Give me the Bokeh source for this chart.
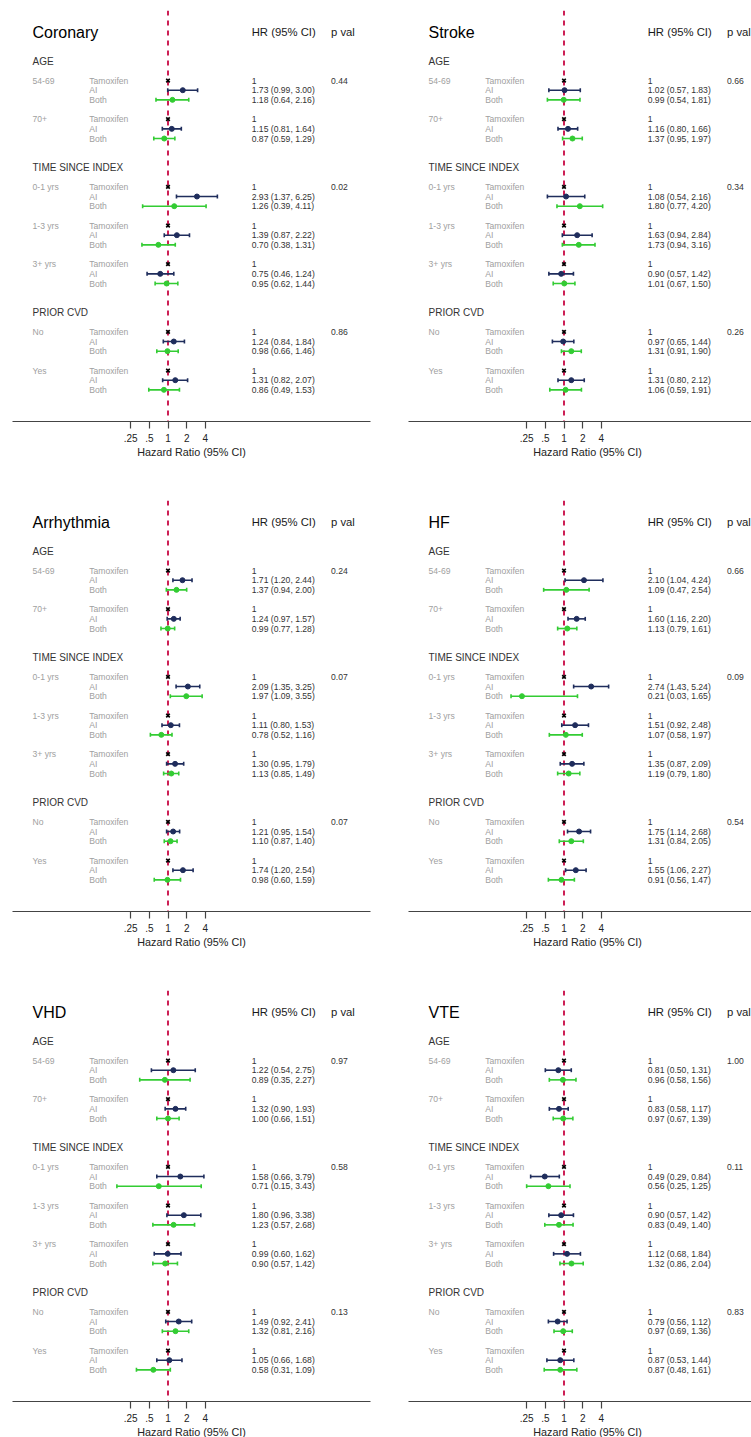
import numpy as np
from bokeh.plotting import figure
from bokeh.models import (Range1d, LinearScale, FixedTicker, Span, Whisker,
                          ColumnDataSource, TeeHead)
from bokeh.layouts import column, row
from bokeh.embed import file_html
from bokeh.resources import INLINE
from bokeh.core.properties import value

# ---------------- data ----------------
outcomes = ["Coronary", "Stroke", "Arrhythmia", "HF", "VHD", "VTE"]
sections = ["AGE", "TIME SINCE INDEX", "PRIOR CVD"]
subgroups = [["54-69", "70+"], ["0-1 yrs", "1-3 yrs", "3+ yrs"], ["No", "Yes"]]
treatments = ["Tamoxifen", "AI", "Both"]
tick_values = [0.25, 0.5, 1.0, 2.0, 4.0]
tick_labels = [".25", ".5", "1", "2", "4"]

# [HR, lower, upper] per subgroup: 54-69, 70+, 0-1 yrs, 1-3 yrs, 3+ yrs, No, Yes
coronary_ai = [[1.73, 0.99, 3.00], [1.15, 0.81, 1.64], [2.93, 1.37, 6.25], [1.39, 0.87, 2.22],
               [0.75, 0.46, 1.24], [1.24, 0.84, 1.84], [1.31, 0.82, 2.07]]
coronary_both = [[1.18, 0.64, 2.16], [0.87, 0.59, 1.29], [1.26, 0.39, 4.11], [0.70, 0.38, 1.31],
                 [0.95, 0.62, 1.44], [0.98, 0.66, 1.46], [0.86, 0.49, 1.53]]
coronary_p = ["0.44", "0.02", "0.86"]

stroke_ai = [[1.02, 0.57, 1.83], [1.16, 0.80, 1.66], [1.08, 0.54, 2.16], [1.63, 0.94, 2.84],
             [0.90, 0.57, 1.42], [0.97, 0.65, 1.44], [1.31, 0.80, 2.12]]
stroke_both = [[0.99, 0.54, 1.81], [1.37, 0.95, 1.97], [1.80, 0.77, 4.20], [1.73, 0.94, 3.16],
               [1.01, 0.67, 1.50], [1.31, 0.91, 1.90], [1.06, 0.59, 1.91]]
stroke_p = ["0.66", "0.34", "0.26"]

arrhythmia_ai = [[1.71, 1.20, 2.44], [1.24, 0.97, 1.57], [2.09, 1.35, 3.25], [1.11, 0.80, 1.53],
                 [1.30, 0.95, 1.79], [1.21, 0.95, 1.54], [1.74, 1.20, 2.54]]
arrhythmia_both = [[1.37, 0.94, 2.00], [0.99, 0.77, 1.28], [1.97, 1.09, 3.55], [0.78, 0.52, 1.16],
                   [1.13, 0.85, 1.49], [1.10, 0.87, 1.40], [0.98, 0.60, 1.59]]
arrhythmia_p = ["0.24", "0.07", "0.07"]

hf_ai = [[2.10, 1.04, 4.24], [1.60, 1.16, 2.20], [2.74, 1.43, 5.24], [1.51, 0.92, 2.48],
         [1.35, 0.87, 2.09], [1.75, 1.14, 2.68], [1.55, 1.06, 2.27]]
hf_both = [[1.09, 0.47, 2.54], [1.13, 0.79, 1.61], [0.21, 0.03, 1.65], [1.07, 0.58, 1.97],
           [1.19, 0.79, 1.80], [1.31, 0.84, 2.05], [0.91, 0.56, 1.47]]
hf_p = ["0.66", "0.09", "0.54"]

vhd_ai = [[1.22, 0.54, 2.75], [1.32, 0.90, 1.93], [1.58, 0.66, 3.79], [1.80, 0.96, 3.38],
          [0.99, 0.60, 1.62], [1.49, 0.92, 2.41], [1.05, 0.66, 1.68]]
vhd_both = [[0.89, 0.35, 2.27], [1.00, 0.66, 1.51], [0.71, 0.15, 3.43], [1.23, 0.57, 2.68],
            [0.90, 0.57, 1.42], [1.32, 0.81, 2.16], [0.58, 0.31, 1.09]]
vhd_p = ["0.97", "0.58", "0.13"]

vte_ai = [[0.81, 0.50, 1.31], [0.83, 0.58, 1.17], [0.49, 0.29, 0.84], [0.90, 0.57, 1.42],
          [1.12, 0.68, 1.84], [0.79, 0.56, 1.12], [0.87, 0.53, 1.44]]
vte_both = [[0.96, 0.58, 1.56], [0.97, 0.67, 1.39], [0.56, 0.25, 1.25], [0.83, 0.49, 1.40],
            [1.32, 0.86, 2.04], [0.97, 0.69, 1.36], [0.87, 0.48, 1.61]]
vte_p = ["1.00", "0.11", "0.83"]

panel_ai = [coronary_ai, stroke_ai, arrhythmia_ai, hf_ai, vhd_ai, vte_ai]
panel_both = [coronary_both, stroke_both, arrhythmia_both, hf_both, vhd_both, vte_both]
panel_p = [coronary_p, stroke_p, arrhythmia_p, hf_p, vhd_p, vte_p]

# ---------------- style / geometry ----------------
FONT = "Liberation Sans"
ROW_H = 9.666           # px per text row
FRAME_H = 411
FRAME_W = 358
TOP_GAP = 21.7          # px from frame top to title row
REF_OFF = 155.5         # px from frame left to HR = 1
PX_PER_LOG2 = 18.675
LOW_LIMIT = 0.14        # lowest HR drawn
AI_COLOR = "#1f2d5c"
BOTH_COLOR = "#33cc33"
REF_COLOR = "#cc1f55"
GRAY = "#a0a0a0"
DARK = "#333333"


def row_layout():
    sec_rows, sub_rows = [], []
    r = 3
    for subs in subgroups:
        sec_rows.append(r)
        r += 2
        for _ in subs:
            sub_rows.append(r)
            r += 4
        r += 1
    return sec_rows, sub_rows


SEC_ROWS, SUB_ROWS = row_layout()


def make_panel(name, ai, both, pvals, left_border, right_border, top_border, bottom_border):
    x0 = 2 ** (-REF_OFF / PX_PER_LOG2)
    x1 = 2 ** ((FRAME_W - REF_OFF) / PX_PER_LOG2)
    y_top = -TOP_GAP / ROW_H
    y_bot = (FRAME_H - TOP_GAP) / ROW_H
    p = figure(frame_width=FRAME_W, frame_height=FRAME_H, x_axis_type="log",
               x_range=Range1d(x0, x1), y_range=Range1d(y_bot, y_top),
               output_backend="svg", toolbar_location=None, y_axis_location=None,
               min_border_left=left_border, min_border_right=right_border,
               min_border_top=top_border, min_border_bottom=bottom_border)
    p.extra_x_ranges = {"px": Range1d(-REF_OFF, FRAME_W - REF_OFF)}
    p.extra_x_scales = {"px": LinearScale()}
    p.outline_line_color = None
    p.grid.visible = False
    p.background_fill_color = "white"
    p.border_fill_color = "white"

    # reference line
    p.add_layout(Span(location=1, dimension="height", line_color=REF_COLOR,
                      line_width=2, line_dash="5 5", level="underlay"))

    # x-axis
    ax = p.xaxis[0]
    ax.ticker = FixedTicker(ticks=tick_values, minor_ticks=[])
    ax.major_label_overrides = {v: l for v, l in zip(tick_values, tick_labels)}
    ax.axis_label = "Hazard Ratio (95% CI)"
    ax.axis_label_text_font_style = "normal"
    ax.axis_label_text_font = FONT
    ax.axis_label_text_font_size = "10.8px"
    ax.axis_label_text_color = "#222222"
    ax.axis_label_standoff = 1
    ax.major_label_text_font = FONT
    ax.major_label_text_font_size = "10px"
    ax.major_label_text_color = "#222222"
    ax.major_label_standoff = 5
    ax.major_tick_out = 7
    ax.major_tick_in = 0
    ax.minor_tick_line_color = None
    ax.axis_line_color = "#444444"
    ax.major_tick_line_color = "#444444"
    ax.axis_line_width = 1.2
    ax.major_tick_line_width = 1.2

    def txt(x, y, t, size, color):
        p.text(x=x, y=y, text=t, x_range_name="px", text_font=value(FONT),
               text_font_size=size, text_color=color, text_align="left",
               text_baseline="middle")

    # headers
    txt([-135.5], [0], [name], "16px", "#000000")
    txt([83.7], [0], ["HR (95% CI)"], "11.3px", "#1a1a1a")
    txt([163], [0], ["p val"], "11.3px", "#1a1a1a")
    txt([-135.5] * len(sections), SEC_ROWS, sections, "10px", DARK)

    sub_names = [s for subs in subgroups for s in subs]
    txt([-135.5] * len(sub_names), SUB_ROWS, sub_names, "8.6px", GRAY)

    tr_y, tr_t = [], []
    hr_y, hr_t = [], []
    for k, r in enumerate(SUB_ROWS):
        for j, t in enumerate(treatments):
            tr_y.append(r + j)
            tr_t.append(t)
        hr_y += [r, r + 1, r + 2]
        hr_t += ["1",
                 "%.2f (%.2f, %.2f)" % tuple(ai[k]),
                 "%.2f (%.2f, %.2f)" % tuple(both[k])]
    txt([-78.8] * len(tr_y), tr_y, tr_t, "8.6px", GRAY)
    txt([83.7] * len(hr_y), hr_y, hr_t, "8.6px", DARK)

    first_sub = []
    idx = 0
    for subs in subgroups:
        first_sub.append(SUB_ROWS[idx])
        idx += len(subs)
    txt([163] * len(pvals), first_sub, pvals, "8.6px", DARK)

    # estimates
    for data, off, color in ((ai, 1, AI_COLOR), (both, 2, BOTH_COLOR)):
        arr = np.array(data, dtype=float)
        src = ColumnDataSource(dict(
            y=[r + off for r in SUB_ROWS], hr=arr[:, 0],
            lo=np.maximum(arr[:, 1], LOW_LIMIT), hi=arr[:, 2]))
        w = Whisker(source=src, base="y", lower="lo", upper="hi", dimension="width",
                    line_color=color, line_width=1.6, level="glyph",
                    upper_head=TeeHead(size=4, line_color=color, line_width=1.6),
                    lower_head=TeeHead(size=4, line_color=color, line_width=1.6))
        p.add_layout(w)
        p.scatter(x="hr", y="y", source=src, marker="circle", size=5,
                  fill_color=color, line_color=color)

    p.scatter(x=[1.0] * len(SUB_ROWS), y=SUB_ROWS, marker="x", size=5,
              line_width=1.7, line_color="black")
    return p


figs = []
for i, name in enumerate(outcomes):
    left = i % 2 == 0
    left_border = 12 if left else 4
    right_border = 34 if left else 0
    top_border = 10 if i < 2 else 2
    bottom_border = 77 if i < 4 else 36
    figs.append(make_panel(name, panel_ai[i], panel_both[i], panel_p[i],
                           left_border, right_border, top_border, bottom_border))

layout = column(row(figs[0], figs[1]), row(figs[2], figs[3]), row(figs[4], figs[5]))
open("out.html", "w").write(file_html(layout, INLINE))
